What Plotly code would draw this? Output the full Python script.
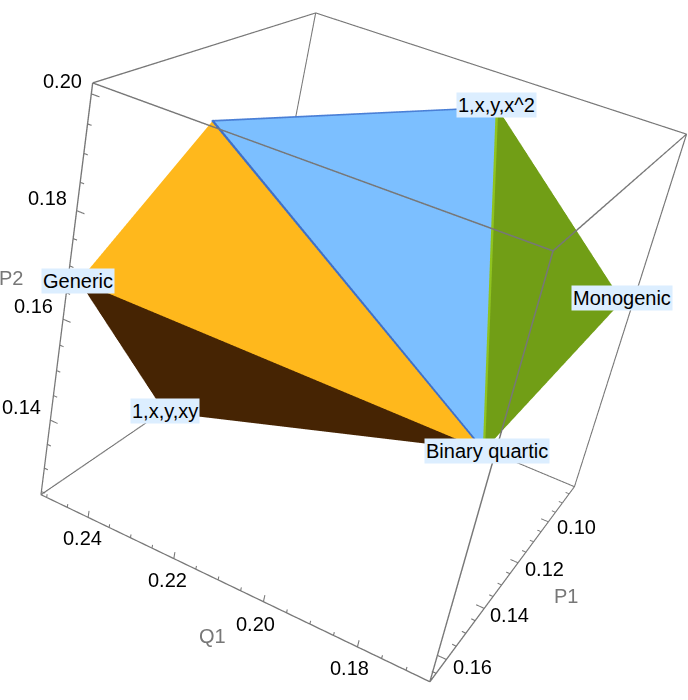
import numpy as np
import plotly.graph_objects as go

# axis ranges
q1_range = [0.1652, 0.2514]
p1_range = [0.081, 0.168]
p2_range = [0.1243, 0.2018]

# tick values and labels
q1_major = [0.24, 0.22, 0.20, 0.18]
p1_major = [0.10, 0.12, 0.14, 0.16]
p2_major = [0.20, 0.18, 0.16, 0.14]
q1_minor = [0.25, 0.245, 0.235, 0.23, 0.225, 0.215, 0.21, 0.205, 0.195, 0.19, 0.185, 0.175, 0.17]
p1_minor = [0.085, 0.09, 0.095, 0.105, 0.11, 0.115, 0.125, 0.13, 0.135, 0.145, 0.15, 0.155, 0.165]
p2_minor = [0.125, 0.13, 0.135, 0.145, 0.15, 0.155, 0.165, 0.17, 0.175, 0.185, 0.19, 0.195]
q1_labels = ["0.24", "0.22", "0.20", "0.18"]
p1_labels = ["0.10", "0.12", "0.14", "0.16"]
p2_labels = ["0.20", "0.18", "0.16", "0.14"]

# polytope vertices
vertex_names = ["Generic", "1,x,y,xy", "Binary quartic", "1,x,y,x^2", "Monogenic", "apex"]
vertex_q1 = [0.2500, 0.2500, 0.1850, 0.2002, 0.1670, 0.2312]
vertex_p1 = [0.1664, 0.1238, 0.0930, 0.0986, 0.0841, 0.1602]
vertex_p2 = [0.1672, 0.1252, 0.1300, 0.2000, 0.1677, 0.2000]

# faces as vertex indices
face_i = [0, 0, 5, 3]
face_j = [5, 1, 3, 4]
face_k = [2, 2, 2, 2]
face_colors = ["#FFB81C", "#462403", "#7CBFFF", "#719E16"]

FONT = "Liberation Sans"
FS = 20
LINE = "#777777"
ASPECT = np.array([1.00355, 0.99401, 1.00183])
EYE = np.array([-1.06788, 2.92802, 1.46033])
CENTER = np.array([0.04124, 0.04752, -0.05995])
UP = [0.14375, 0.15223, 1]
PAD = 1.02   # ranges widened slightly so edge strokes are not clipped; scale kept by the aspect

lo = np.array([q1_range[0], p1_range[0], p2_range[0]])
hi = np.array([q1_range[1], p1_range[1], p2_range[1]])
mid, span = (lo + hi) / 2, hi - lo
PX = 3.4 / 1471 * 0.5   # half a pixel in scene units at the box

fig = go.Figure()
LIGHT = dict(ambient=1, diffuse=0, specular=0, roughness=1, fresnel=0)
fig.add_trace(go.Mesh3d(x=vertex_q1, y=vertex_p1, z=vertex_p2, i=face_i, j=face_j, k=face_k,
                        facecolor=face_colors, flatshading=True, hoverinfo="skip", lighting=LIGHT))

class Strokes:
    """Straight strokes drawn as camera-facing strips."""
    def __init__(self): self.v, self.i, self.j, self.k, self.c = [], [], [], [], []
    def add(self, s, e, color=LINE, px=1.2, lift=0.0):
        ns = (np.array(s) - mid) / span * ASPECT
        ne = (np.array(e) - mid) / span * ASPECT
        view = EYE - (ns + ne) / 2
        view = view / np.linalg.norm(view)
        o = np.cross(ne - ns, view)
        o = o / np.linalg.norm(o) * PX * px
        n = len(self.v)
        for p in (ns + o, ns - o, ne - o, ne + o):
            self.v.append((p + view * lift) / ASPECT * span + mid)
        self.i += [n, n]; self.j += [n + 1, n + 2]; self.k += [n + 2, n + 3]; self.c += [color, color]

st = Strokes()
def vert(n):
    return (vertex_q1[n], vertex_p1[n], vertex_p2[n])
st.add(vert(5), vert(2), "#3F70C8", 2.0, 0.01)
st.add(vert(5), vert(3), "#4A7FD6", 1.5, 0.01)
st.add(vert(3), vert(2), "#8FC31F", 2.5, 0.01)

xa, xb = q1_range; ya, yb = p1_range; za, zb = p2_range
for s, e in [((xa,ya,za),(xb,ya,za)),((xa,yb,za),(xb,yb,za)),((xa,ya,zb),(xb,ya,zb)),((xa,yb,zb),(xb,yb,zb)),
             ((xa,ya,za),(xa,yb,za)),((xb,ya,za),(xb,yb,za)),((xa,ya,zb),(xa,yb,zb)),((xb,ya,zb),(xb,yb,zb)),
             ((xa,ya,za),(xa,ya,zb)),((xb,ya,za),(xb,ya,zb)),((xa,yb,za),(xa,yb,zb)),((xb,yb,za),(xb,yb,zb))]:
    st.add(s, e)
dx, dz = xb - xa, zb - za
for vals, frac in ((q1_major, 0.018), (q1_minor, 0.009)):
    for v in vals:
        st.add((v, yb, za), (v, yb, za + frac * dz), px=1.0)
for vals, frac in ((p1_major, 0.02), (p1_minor, 0.01)):
    for v in vals:
        st.add((xa, v, za), (xa + frac * dx, v, za), px=1.0)
for vals, frac in ((p2_major, 0.02), (p2_minor, 0.01)):
    for v in vals:
        st.add((xb, yb, v), (xb - frac * dx, yb, v), px=1.0)
sv = np.array(st.v)
fig.add_trace(go.Mesh3d(x=sv[:, 0], y=sv[:, 1], z=sv[:, 2], i=st.i, j=st.j, k=st.k, facecolor=st.c,
                        flatshading=True, hoverinfo="skip", lighting=LIGHT))

anns = []
def ann(x, y, z, text, xs=0, ys=0, color="#000000", bg=None):
    d = dict(x=x, y=y, z=z, text=text, showarrow=False, xanchor="center", yanchor="middle",
             xshift=xs, yshift=ys, font=dict(family=FONT, size=FS, color=color))
    if bg:
        d.update(bgcolor=bg, borderpad=1)
    anns.append(d)

q1_shift = [(-6, -21), (-6, -21), (-8, -22), (-8, -21)]
p1_shift = [(28, -5), (26, -6), (25, -7), (26, -7)]
p2_shift = [(-29, 13), (-29, 13), (-30, 13), (-29, 13)]
label_shift = [(-1, 0), (0, 2), (3, 0), (-1, 2), (0, 3)]
for v, t, s in zip(q1_major, q1_labels, q1_shift):
    ann(v, yb, za, t, *s)
for v, t, s in zip(p1_major, p1_labels, p1_shift):
    ann(xa, v, za, t, *s)
for v, t, s in zip(p2_major, p2_labels, p2_shift):
    ann(xb, yb, v, t, *s)
ann(0.2113, yb, za, "Q1", 0, -59, "#777777")
ann(xa, 0.13, za, "P1", 64, -11, "#777777")
ann(xb, yb, 0.165, "P2", -55, 15, "#777777")
for n in range(5):
    ann(vertex_q1[n], vertex_p1[n], vertex_p2[n], vertex_names[n], *label_shift[n], bg="#DCEEFF")

axis = dict(visible=False, showgrid=False, zeroline=False, showspikes=False, autorange=False)
def wide(i):
    return [mid[i] - span[i] / 2 * PAD, mid[i] + span[i] / 2 * PAD]
fig.update_layout(
    width=1219, height=1219, margin=dict(l=0, r=0, t=0, b=0, pad=0), showlegend=False,
    paper_bgcolor="white",
    scene=dict(domain=dict(x=[0, 1], y=[0, 1]), bgcolor="white", dragmode="orbit",
               xaxis=dict(axis, range=wide(0)), yaxis=dict(axis, range=wide(1)), zaxis=dict(axis, range=wide(2)),
               aspectmode="manual", aspectratio=dict(x=ASPECT[0] * PAD, y=ASPECT[1] * PAD, z=ASPECT[2] * PAD),
               camera=dict(eye=dict(x=EYE[0], y=EYE[1], z=EYE[2]), center=dict(x=CENTER[0], y=CENTER[1], z=CENTER[2]),
                           up=dict(x=UP[0], y=UP[1], z=UP[2]), projection=dict(type="perspective")),
               annotations=anns))
post = """
var gd=document.getElementById('{plot_id}');
document.documentElement.style.overflow='hidden';document.body.style.overflow='hidden';document.body.style.margin='0';
gd.style.position='absolute';gd.style.left='-271.9px';gd.style.top='-274.4px';
"""
fig.write_html("out.html", config=dict(displayModeBar=False, responsive=False), post_script=post)
